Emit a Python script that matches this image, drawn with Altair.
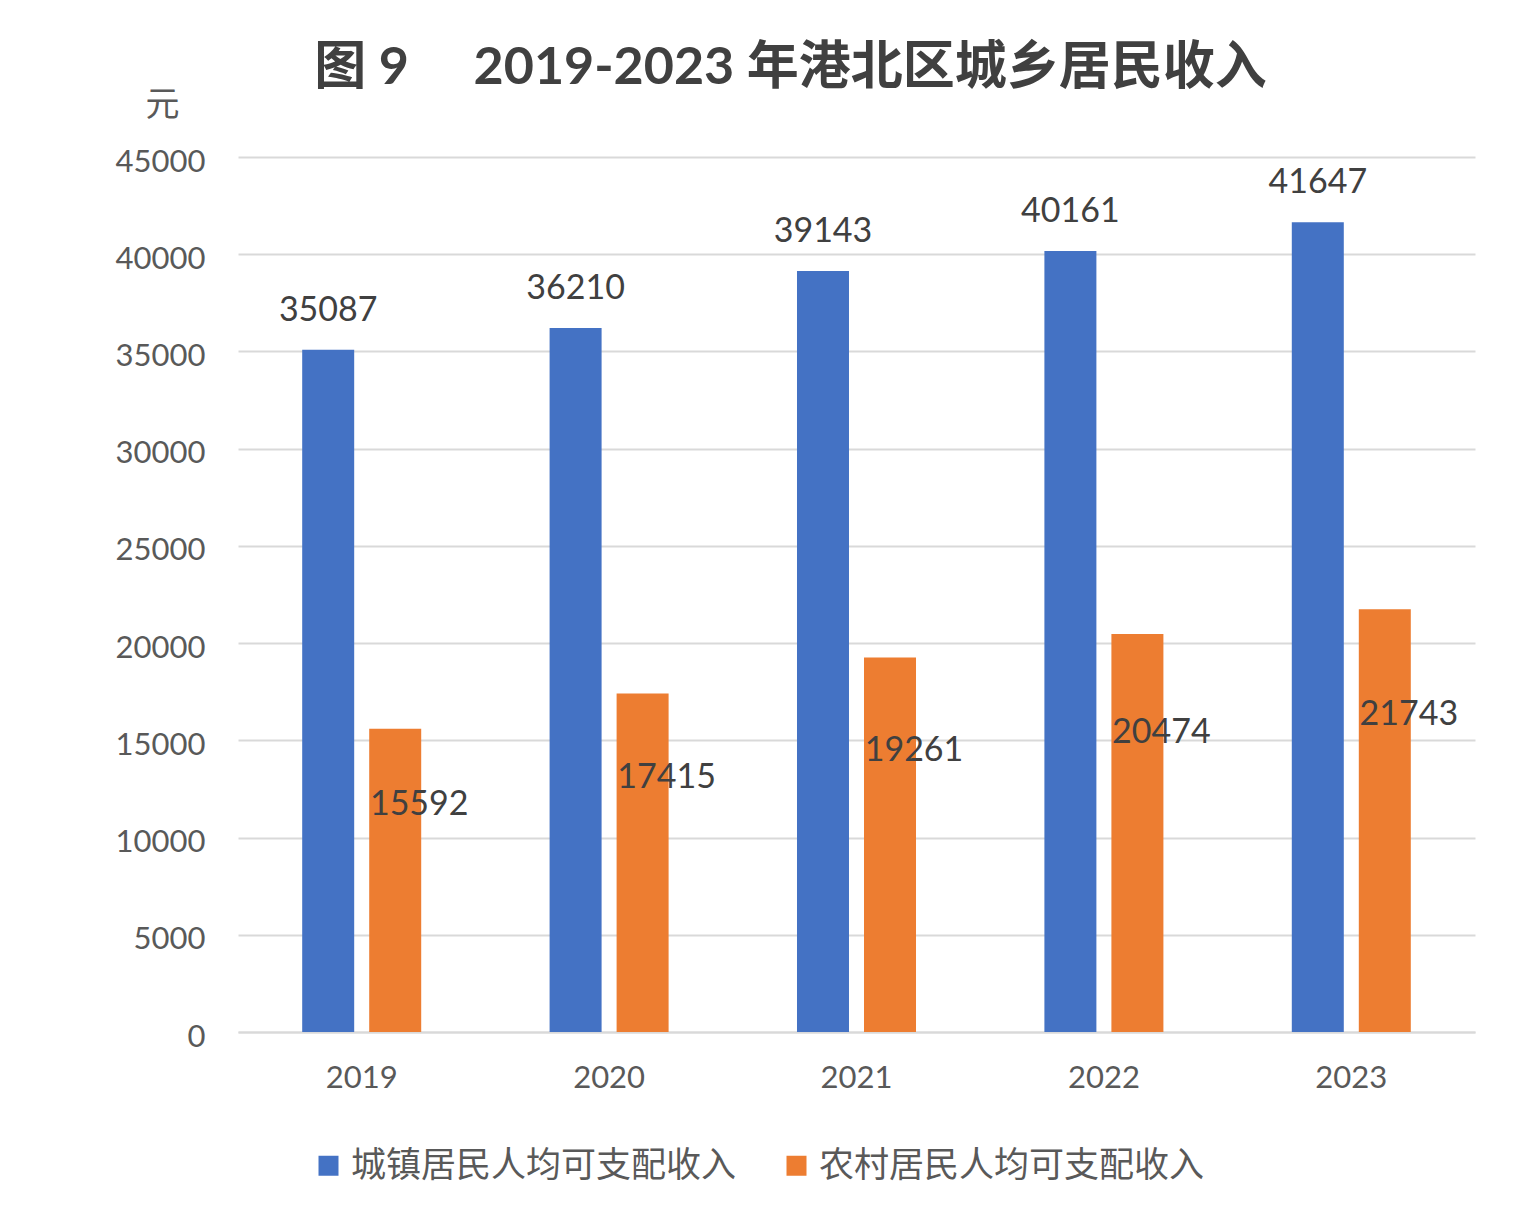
import altair as alt
import pandas as pd

years = ["2019", "2020", "2021", "2022", "2023"]
series = ["城镇居民人均可支配收入", "农村居民人均可支配收入"]
urban = [35087, 36210, 39143, 40161, 41647]
rural = [15592, 17415, 19261, 20474, 21743]
colors = ["#4472C4", "#ED7D31"]

rows = []
for y, v in zip(years, urban):
    rows.append({"year": y, "series": series[0], "value": v})
for y, v in zip(years, rural):
    rows.append({"year": y, "series": series[1], "value": v})
df = pd.DataFrame(rows)

FONT = "Lato, 'Noto Sans CJK SC', sans-serif"

x_enc = alt.X(
    "year:N",
    sort=years,
    scale=alt.Scale(paddingInner=0, paddingOuter=0),
    axis=alt.Axis(
        title=None,
        labelAngle=0,
        labelFontSize=31,
        labelColor="#595959",
        labelFont=FONT,
        labelPadding=31,
        ticks=False,
        domain=True,
        domainColor="#D9D9D9",
        domainWidth=2,
        grid=False,
    ),
)
xoff_enc = alt.XOffset(
    "series:N",
    sort=series,
    scale=alt.Scale(domain=series, paddingInner=0.224, paddingOuter=0.958),
)
y_scale = alt.Scale(domain=[0, 45000], nice=False)

bars = alt.Chart(df).mark_bar().encode(
    x=x_enc,
    xOffset=xoff_enc,
    y=alt.Y(
        "value:Q",
        scale=y_scale,
        axis=alt.Axis(
            title="元",
            titleAngle=0,
            titleX=-76,
            titleY=-52,
            titleAlign="center",
            titleBaseline="middle",
            titleFontSize=34,
            titleFontWeight="normal",
            titleColor="#595959",
            titleFont="'Noto Sans CJK SC', sans-serif",
            values=list(range(0, 45001, 5000)),
            format="d",
            labelFontSize=31,
            labelColor="#595959",
            labelFont=FONT,
            labelPadding=33,
            labelOffset=5,
            ticks=False,
            domain=False,
            grid=True,
            gridColor="#D9D9D9",
            gridWidth=2,
        ),
    ),
    color=alt.Color(
        "series:N",
        sort=series,
        scale=alt.Scale(domain=series, range=colors),
        legend=alt.Legend(
            title=None,
            orient="none",
            legendX=73,
            legendY=991,
            direction="horizontal",
            symbolType="square",
            symbolSize=400,
            symbolStrokeWidth=0,
            labelFontSize=35,
            labelFont="'Noto Sans CJK SC', sans-serif",
            labelColor="#595959",
            labelOffset=5,
            labelLimit=0,
            columnPadding=42,
        ),
    ),
)

urban_labels = (
    alt.Chart(df)
    .transform_filter(alt.datum.series == series[0])
    .mark_text(baseline="alphabetic", dy=-29, fontSize=34, font=FONT, color="#404040")
    .encode(x=alt.X("year:N", sort=years), xOffset=xoff_enc, y=alt.Y("value:Q", scale=y_scale), text="value:Q")
)

rural_labels = (
    alt.Chart(df)
    .transform_filter(alt.datum.series == series[1])
    .transform_calculate(pos="datum.value * 0.75")
    .mark_text(baseline="middle", dx=24, fontSize=34, font=FONT, color="#404040")
    .encode(x=alt.X("year:N", sort=years), xOffset=xoff_enc, y=alt.Y("pos:Q", scale=y_scale), text="value:Q")
)

title_text = "图\u00a09\u3000\u00a02019-2023\u00a0年港北区城乡居民收入"

chart = (
    alt.layer(bars, urban_labels, rural_labels)
    .properties(
        width=1237,
        height=875,
        autosize=alt.AutoSizeParams(type="none"),
        padding={"left": 230, "top": 149, "right": 40, "bottom": 170},
        background="white",
        title=alt.TitleParams(
            text=title_text,
            fontSize=52,
            fontWeight="bold",
            font=FONT,
            color="#404040",
            anchor="middle",
            frame="group",
            dx=-66,
            offset=-7,
        ),
    )
    .configure_view(strokeWidth=0, stroke="transparent")
)

chart.save("out.html", embed_options={"renderer": "svg", "actions": False})
